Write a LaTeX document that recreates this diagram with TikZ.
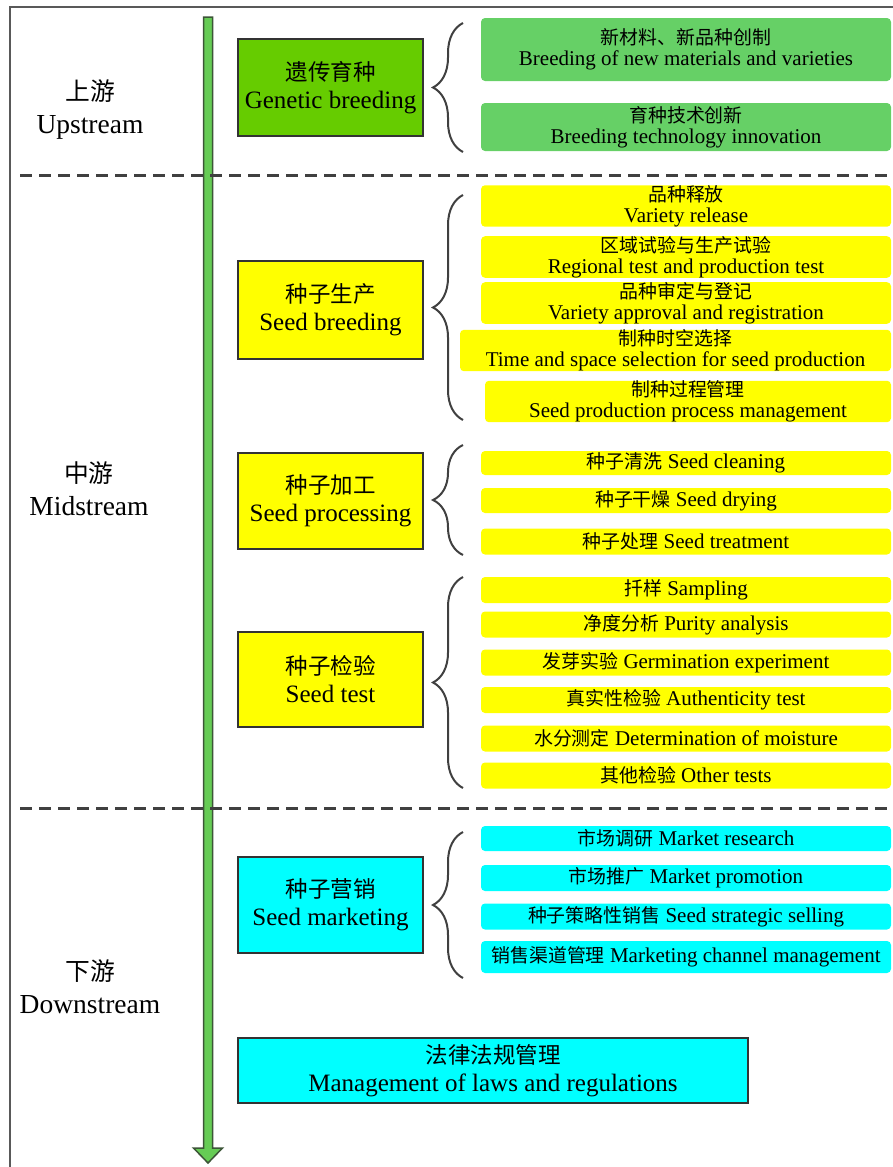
\documentclass[tikz,border=0pt]{standalone}
\usepackage{fontspec}
\setmainfont{Liberation Serif}
\newfontfamily\cjk[Scale=0.9]{Noto Sans CJK SC}
\usetikzlibrary{decorations.pathreplacing}
\newcommand\zh[1]{{\cjk #1}}
\definecolor{gbox}{RGB}{102,204,0}
\definecolor{gitem}{RGB}{102,208,102}
\definecolor{yel}{RGB}{255,255,0}
\definecolor{cya}{RGB}{0,255,255}
\definecolor{arrowgreen}{RGB}{102,204,85}
\definecolor{arrowline}{RGB}{60,85,55}
\definecolor{linegray}{RGB}{64,64,64}
\begin{document}
\begin{tikzpicture}[x=1pt,y=-1pt,
  catbox/.style={draw=black!80, line width=2.5pt, inner sep=0pt, align=center,
    minimum width=185pt, minimum height=96pt, font=\fontsize{25}{28}\selectfont},
  itm/.style={rounded corners=4pt, inner sep=0pt, align=center,
    minimum width=410pt, font=\fontsize{21}{21}\selectfont},
  yitm/.style={itm, fill=yel},
  citm/.style={itm, fill=cya},
  gitm/.style={itm, fill=gitem},
  stagelabel/.style={align=center, inner sep=0pt, font=\fontsize{27.5}{33}\selectfont},
  brc/.style={draw=linegray, line width=2pt, decorate, decoration={brace, amplitude=30pt}},
  dashsep/.style={draw=linegray, line width=3pt, dash pattern=on 12pt off 7pt},
]
\useasboundingbox (0,0) rectangle (893,1167);
% frame
\draw[line width=2pt, draw=black!65] (10,1167) -- (10,7) -- (893,7);
% main arrow
\draw[fill=arrowgreen, draw=arrowline, line width=1.5pt]
  (203.5,17) -- (212.5,17) -- (212.5,1148) -- (222.5,1148) -- (208,1163)
  -- (193.5,1148) -- (203.5,1148) -- cycle;
% separators
\draw[dashsep] (20,175) -- (893,175);
\draw[dashsep] (20,808) -- (893,808);

% ---------- Upstream ----------
\node[stagelabel] (up) at (90,110) {\zh{上游}\\Upstream};
\node[catbox, fill=gbox, minimum height=97pt] (gen) at (330.5,87.5) {\zh{遗传育种}\\Genetic breeding};
\node[gitm, minimum height=63pt] (g1) at (686,49.5) {\zh{新材料、新品种创制}\\Breeding of new materials and varieties};
\node[gitm, minimum height=48pt] (g2) at (686,127) {\zh{育种技术创新}\\Breeding technology innovation};
\coordinate (b1t) at (463,23);
\coordinate (b1b) at (463,152);
\draw[brc] (b1b) -- (b1t);

% ---------- Midstream ----------
\node[stagelabel] (mid) at (89,489) {\zh{中游}\\Midstream};

\node[catbox, fill=yel, minimum height=98pt] (sb) at (330.5,310) {\zh{种子生产}\\Seed breeding};
\node[yitm, minimum height=32pt] (y1) at (686,206) {\zh{品种释放}\\Variety release};
\node[yitm, minimum height=40pt] (y2) at (686,257) {\zh{区域试验与生产试验}\\Regional test and production test};
\node[yitm, minimum height=40pt] (y3) at (686,303) {\zh{品种审定与登记}\\Variety approval and registration};
\node[yitm, minimum height=41pt, minimum width=431pt] (y4) at (675.5,350.5) {\zh{制种时空选择}\\Time and space selection for seed production};
\node[yitm, minimum height=39pt, minimum width=406pt] (y5) at (688,401.5) {\zh{制种过程管理}\\Seed production process management};
\coordinate (b2t) at (463,195);
\coordinate (b2b) at (463,420);
\draw[brc] (b2b) -- (b2t);

\node[catbox, fill=yel] (sp) at (330.5,501) {\zh{种子加工}\\Seed processing};
\node[yitm, minimum height=24pt] (p1) at (686,463) {\zh{种子清洗} Seed cleaning};
\node[yitm, minimum height=25pt] (p2) at (686,500.5) {\zh{种子干燥} Seed drying};
\node[yitm, minimum height=26pt] (p3) at (686,541.5) {\zh{种子处理} Seed treatment};
\coordinate (b3t) at (463,445);
\coordinate (b3b) at (463,555);
\draw[brc] (b3b) -- (b3t);

\node[catbox, fill=yel, minimum height=95pt] (st) at (330.5,679.5) {\zh{种子检验}\\Seed test};
\node[yitm, minimum height=26pt] (t1) at (686,590) {\zh{扦样} Sampling};
\node[yitm, minimum height=26pt] (t2) at (686,624.5) {\zh{净度分析} Purity analysis};
\node[yitm, minimum height=26pt] (t3) at (686,662.5) {\zh{发芽实验} Germination experiment};
\node[yitm, minimum height=26pt] (t4) at (686,700) {\zh{真实性检验} Authenticity test};
\node[yitm, minimum height=26pt] (t5) at (686,738.5) {\zh{水分测定} Determination of moisture};
\node[yitm, minimum height=26pt] (t6) at (686,775.5) {\zh{其他检验} Other tests};
\coordinate (b4t) at (463,577);
\coordinate (b4b) at (463,788);
\draw[brc] (b4b) -- (b4t);

% ---------- Downstream ----------
\node[stagelabel] (down) at (90,987) {\zh{下游}\\Downstream};
\node[catbox, fill=cya] (sm) at (330.5,905) {\zh{种子营销}\\Seed marketing};
\node[citm, minimum height=25pt] (m1) at (686,838.5) {\zh{市场调研} Market research};
\node[citm, minimum height=26pt] (m2) at (686,878) {\zh{市场推广} Market promotion};
\node[citm, minimum height=26pt] (m3) at (686,916.5) {\zh{种子策略性销售} Seed strategic selling};
\node[citm, minimum height=32pt] (m4) at (686,957) {\zh{销售渠道管理} Marketing channel management};
\coordinate (b5t) at (463,832);
\coordinate (b5b) at (463,978);
\draw[brc] (b5b) -- (b5t);

\node[catbox, fill=cya, minimum width=510pt, minimum height=65pt] (law) at (493,1070.5) {\zh{法律法规管理}\\Management of laws and regulations};
\end{tikzpicture}
\end{document}
